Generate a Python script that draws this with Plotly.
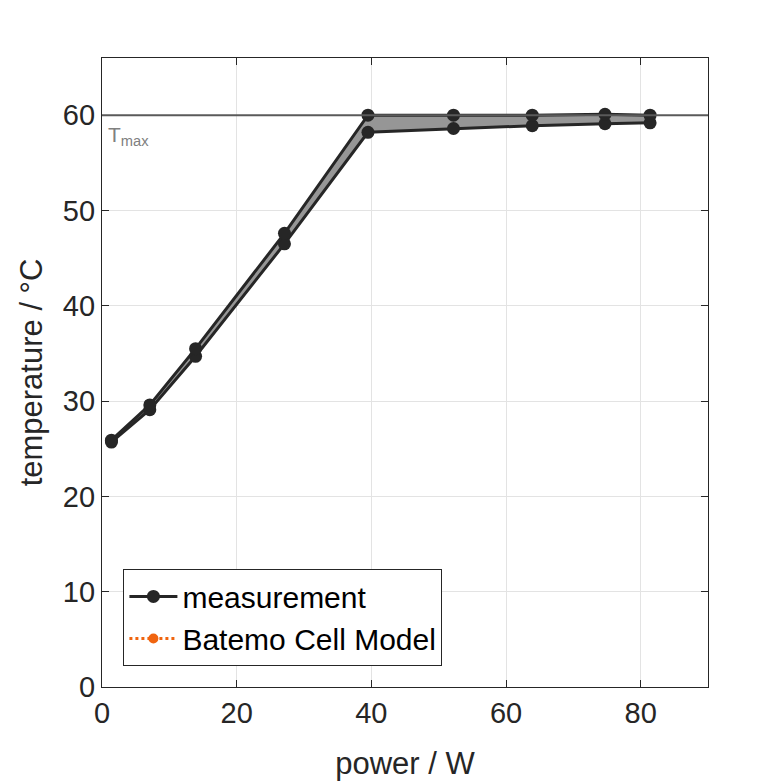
import plotly.graph_objects as go

# measurement band: upper / lower temperature per power step
power = [1.4, 7.1, 13.9, 27.1, 39.5, 52.2, 63.9, 74.7, 81.4]
temp_upper = [25.9, 29.6, 35.5, 47.6, 60.0, 60.0, 60.0, 60.1, 60.0]
temp_lower = [25.7, 29.1, 34.7, 46.5, 58.2, 58.6, 58.9, 59.1, 59.2]

# Batemo model has no visible points in the reference, only a legend entry
model_power = [None]
model_temp = [None]

t_max = 60

dark = "#262626"
font = "Liberation Sans, Arial, sans-serif"

fig = go.Figure()

# grey band between the two measurement lines
fig.add_trace(go.Scatter(x=power, y=temp_lower, mode="lines", line=dict(width=0),
                         showlegend=False, hoverinfo="skip"))
fig.add_trace(go.Scatter(x=power, y=temp_upper, mode="lines", line=dict(width=0),
                         fill="tonexty", fillcolor="#969696",
                         showlegend=False, hoverinfo="skip"))

fig.add_trace(go.Scatter(x=power, y=temp_lower, mode="lines+markers",
                         line=dict(color=dark, width=3),
                         marker=dict(color=dark, size=13),
                         showlegend=False))
fig.add_trace(go.Scatter(x=power, y=temp_upper, mode="lines+markers",
                         line=dict(color=dark, width=3),
                         marker=dict(color=dark, size=13),
                         name="measurement"))
fig.add_trace(go.Scatter(x=model_power, y=model_temp, mode="lines+markers",
                         line=dict(color="#f0640f", width=3, dash="dot"),
                         marker=dict(color="#f0640f", size=10),
                         name="Batemo Cell Model"))

# T_max reference line
fig.add_shape(type="line", xref="paper", x0=0, x1=1, yref="y", y0=t_max, y1=t_max,
              line=dict(color="#5a5a5a", width=2), layer="above")
fig.add_annotation(x=0.6, y=t_max - 0.6, xref="x", yref="y",
                   text="T<sub>max</sub>", showarrow=False,
                   xanchor="left", yanchor="top",
                   font=dict(family=font, size=21, color="#808080"))

axis_style = dict(
    showline=True, linecolor=dark, linewidth=1.2, mirror="ticks",
    ticks="inside", ticklen=7, tickcolor=dark,
    showgrid=True, gridcolor="#e3e3e3", gridwidth=1,
    zeroline=False,
    tickfont=dict(family=font, size=29, color=dark),
)

fig.update_layout(
    width=781, height=781,
    paper_bgcolor="white", plot_bgcolor="white",
    margin=dict(l=94, r=81, t=50, b=102),
    xaxis=dict(range=[0, 90], tickvals=[0, 20, 40, 60, 80],
               title=dict(text="power / W", font=dict(family=font, size=31, color=dark),
                          standoff=24),
               **axis_style),
    yaxis=dict(range=[0, 66], tickvals=[0, 10, 20, 30, 40, 50, 60],
               title=dict(text="temperature / °C", font=dict(family=font, size=31, color=dark),
                          standoff=10),
               **axis_style),
    legend=dict(x=0.035, y=0.033, xanchor="left", yanchor="bottom",
                traceorder="normal", itemwidth=48,
                bgcolor="white", bordercolor=dark, borderwidth=1.2,
                font=dict(family=font, size=30, color="black"),
                tracegroupgap=0),
    showlegend=True,
)

fig.write_html("out.html")
